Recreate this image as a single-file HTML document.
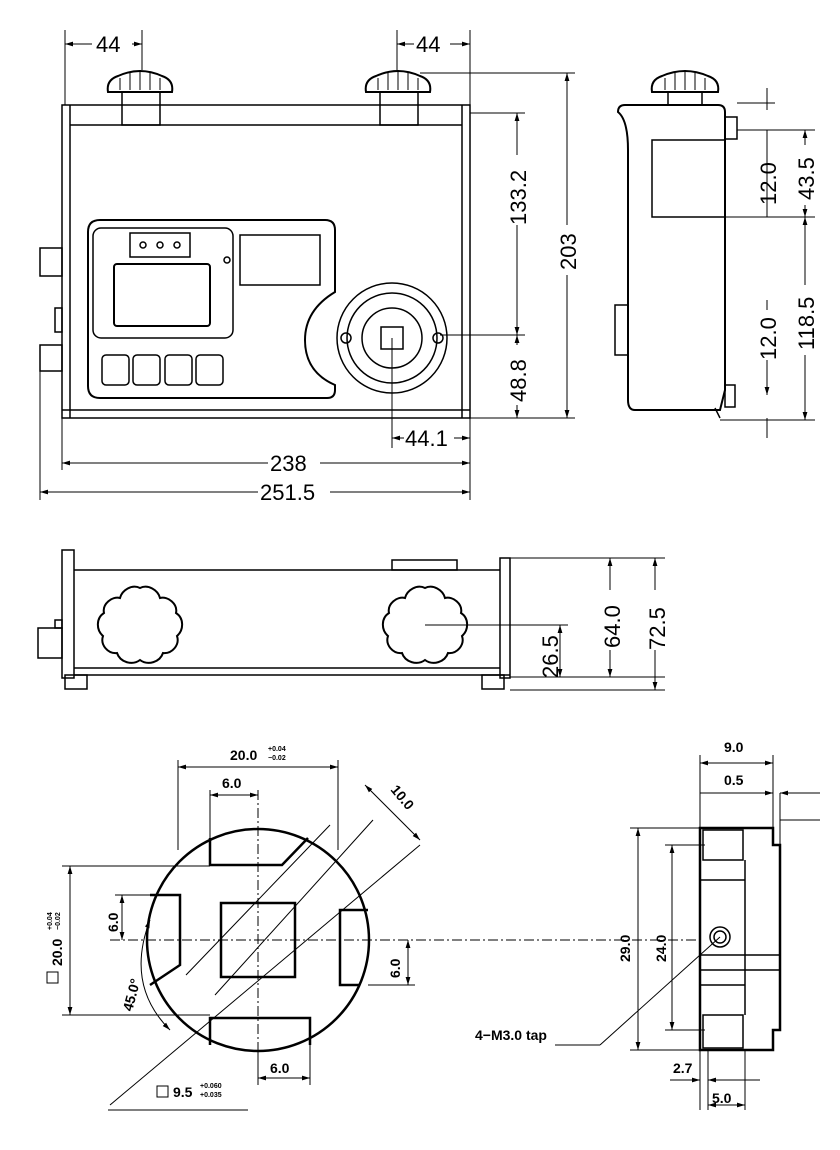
<!DOCTYPE html>
<html><head><meta charset="utf-8"><style>
html,body{margin:0;padding:0;background:#fff}
svg{display:block}
text{font-family:"Liberation Sans",sans-serif;fill:#000}
</style></head><body>
<svg width="840" height="1150" viewBox="0 0 840 1150" xmlns="http://www.w3.org/2000/svg">
<defs>
<marker id="a" viewBox="0 0 10 10" refX="10" refY="5" markerWidth="8" markerHeight="8" orient="auto-start-reverse"><path d="M0,2 L10,5 L0,8 z" fill="#000"/></marker>
</defs>
<g fill="none" stroke="#000" stroke-width="1.5">
<rect x="62" y="105" width="408" height="313"/>
<line x1="70" y1="105" x2="70" y2="418"/>
<line x1="462" y1="105" x2="462" y2="418"/>
<line x1="70" y1="125" x2="462" y2="125"/>
<line x1="62" y1="410" x2="470" y2="410"/>
<path d="M108,92 Q106,80 118,76 Q140,66 162,76 Q174,80 172,92 Z" stroke-width="2"/>
<path d="M120,78 V90 M130,73 V90 M140,71 V90 M150,73 V90 M160,78 V90" stroke-width="1"/>
<rect x="122" y="92" width="38" height="33"/>
<path d="M366,92 Q364,80 376,76 Q398,66 420,76 Q432,80 430,92 Z" stroke-width="2"/>
<path d="M378,78 V90 M388,73 V90 M398,71 V90 M408,73 V90 M418,78 V90" stroke-width="1"/>
<rect x="380" y="92" width="38" height="33"/>
<rect x="40" y="248" width="22" height="28"/>
<rect x="55" y="308" width="7" height="24"/>
<rect x="40" y="345" width="22" height="26"/>
<path d="M100,220 H325 Q335,220 335,230 V292 Q305,310 305,340 Q305,372 335,385 V390 Q335,398 327,398 H100 Q88,398 88,386 V232 Q88,220 100,220 Z" stroke-width="2"/>
<rect x="93" y="228" width="140" height="110" rx="8"/>
<rect x="130" y="233" width="60" height="24"/>
<circle cx="143" cy="245" r="3"/><circle cx="160" cy="245" r="3"/><circle cx="177" cy="245" r="3"/>
<rect x="114" y="264" width="96" height="62" rx="3" stroke-width="2"/>
<rect x="240" y="235" width="80" height="50"/>
<circle cx="227" cy="260" r="3"/>
<rect x="102" y="355" width="27" height="30" rx="4"/>
<rect x="133" y="355" width="27" height="30" rx="4"/>
<rect x="165" y="355" width="27" height="30" rx="4"/>
<rect x="196" y="355" width="27" height="30" rx="4"/>
<circle cx="392" cy="338" r="55"/>
<circle cx="392" cy="338" r="45"/>
<circle cx="392" cy="338" r="30"/>
<rect x="381" y="327" width="22" height="22"/>
<circle cx="346" cy="338" r="5"/><circle cx="438" cy="338" r="5"/>
<line x1="65" y1="30" x2="65" y2="105" stroke-width="1"/>
<line x1="142" y1="30" x2="142" y2="70" stroke-width="1"/>
<line x1="65" y1="44" x2="142" y2="44" stroke-width="1" marker-start="url(#a)" marker-end="url(#a)"/>
<line x1="397" y1="30" x2="397" y2="70" stroke-width="1"/>
<line x1="470" y1="30" x2="470" y2="105" stroke-width="1"/>
<line x1="397" y1="44" x2="470" y2="44" stroke-width="1" marker-start="url(#a)" marker-end="url(#a)"/>
<line x1="420" y1="73" x2="575" y2="73" stroke-width="1"/>
<line x1="470" y1="113" x2="525" y2="113" stroke-width="1"/>
<line x1="440" y1="335" x2="525" y2="335" stroke-width="1"/>
<line x1="470" y1="418" x2="575" y2="418" stroke-width="1"/>
<line x1="517" y1="113" x2="517" y2="335" stroke-width="1" marker-start="url(#a)" marker-end="url(#a)"/>
<line x1="517" y1="335" x2="517" y2="418" stroke-width="1" marker-start="url(#a)" marker-end="url(#a)"/>
<line x1="567" y1="73" x2="567" y2="418" stroke-width="1" marker-start="url(#a)" marker-end="url(#a)"/>
<line x1="392" y1="338" x2="392" y2="448" stroke-width="1"/>
<line x1="392" y1="438" x2="470" y2="438" stroke-width="1" marker-start="url(#a)" marker-end="url(#a)"/>
<line x1="470" y1="418" x2="470" y2="500" stroke-width="1"/>
<line x1="62" y1="418" x2="62" y2="470" stroke-width="1"/>
<line x1="40" y1="371" x2="40" y2="500" stroke-width="1"/>
<line x1="62" y1="463" x2="470" y2="463" stroke-width="1" marker-start="url(#a)" marker-end="url(#a)"/>
<line x1="40" y1="492" x2="470" y2="492" stroke-width="1" marker-start="url(#a)" marker-end="url(#a)"/>
<path d="M625,105 H718 Q725,105 725,112 V390 L720,410 H635 Q628,410 628,400 V150 Q628,120 618,112 Q618,105 625,105 Z" stroke-width="2"/>
<path d="M652,92 Q650,80 662,76 Q685,66 708,76 Q720,80 718,92 Z" stroke-width="2"/>
<path d="M665,78 V90 M675,73 V90 M685,71 V90 M695,73 V90 M705,78 V90" stroke-width="1"/>
<rect x="668" y="92" width="34" height="13"/>
<rect x="652" y="140" width="73" height="77"/>
<rect x="725" y="117" width="12" height="22"/>
<rect x="615" y="305" width="13" height="50"/>
<rect x="725" y="385" width="10" height="22"/>
<line x1="715" y1="408" x2="720" y2="418"/>
<line x1="737" y1="103" x2="775" y2="103" stroke-width="1"/>
<line x1="767" y1="88" x2="767" y2="110" stroke-width="1"/>
<line x1="737" y1="130" x2="815" y2="130" stroke-width="1"/>
<line x1="725" y1="217" x2="815" y2="217" stroke-width="1"/>
<line x1="720" y1="420" x2="815" y2="420" stroke-width="1"/>
<line x1="767" y1="130" x2="767" y2="217" stroke-width="1"/>
<line x1="805" y1="130" x2="805" y2="217" stroke-width="1" marker-start="url(#a)" marker-end="url(#a)"/>
<line x1="805" y1="217" x2="805" y2="420" stroke-width="1" marker-start="url(#a)" marker-end="url(#a)"/>
<line x1="767" y1="300" x2="767" y2="395" stroke-width="1" marker-end="url(#a)"/>
<line x1="767" y1="418" x2="767" y2="438" stroke-width="1"/>
<rect x="62" y="550" width="12" height="128"/>
<line x1="74" y1="570" x2="500" y2="570"/>
<line x1="74" y1="668" x2="500" y2="668"/>
<line x1="74" y1="675" x2="510" y2="675"/>
<rect x="500" y="558" width="10" height="120"/>
<rect x="392" y="560" width="65" height="10"/>
<rect x="38" y="628" width="24" height="30"/>
<rect x="55" y="620" width="7" height="8"/>
<rect x="65" y="675" width="22" height="14"/>
<rect x="482" y="675" width="22" height="14"/>
<path d="M140,588 C148,584 158,590 160,598 C168,596 178,604 176,613 C184,618 184,630 177,636 C180,645 172,654 163,653 C160,662 148,666 140,660 C132,666 120,662 117,653 C108,654 100,645 103,636 C96,630 96,618 104,613 C102,604 112,596 120,598 C122,590 132,584 140,588 Z" stroke-width="2"/>
<path d="M425,588 C433,584 443,590 445,598 C453,596 463,604 461,613 C469,618 469,630 462,636 C465,645 457,654 448,653 C445,662 433,666 425,660 C417,666 405,662 402,653 C393,654 385,645 388,636 C381,630 381,618 389,613 C387,604 397,596 405,598 C407,590 417,584 425,588 Z" stroke-width="2"/>
<line x1="425" y1="625" x2="568" y2="625" stroke-width="1"/>
<line x1="510" y1="558" x2="665" y2="558" stroke-width="1"/>
<line x1="510" y1="677" x2="665" y2="677" stroke-width="1"/>
<line x1="510" y1="690" x2="665" y2="690" stroke-width="1"/>
<line x1="560" y1="625" x2="560" y2="677" stroke-width="1" marker-start="url(#a)" marker-end="url(#a)"/>
<line x1="610" y1="558" x2="610" y2="677" stroke-width="1" marker-start="url(#a)" marker-end="url(#a)"/>
<line x1="655" y1="558" x2="655" y2="690" stroke-width="1" marker-start="url(#a)" marker-end="url(#a)"/>
<circle cx="258" cy="940" r="111" stroke-width="2.5"/>
<path d="M210,838 V865 H282 L308,838" stroke-width="2.5"/>
<path d="M210,1045 V1018 H310 V1045" stroke-width="2.5"/>
<path d="M150,895 H180 V965 L150,985" stroke-width="2.5"/>
<path d="M368,910 L340,910 V985 H360" stroke-width="2.5"/>
<rect x="221" y="903" width="74" height="74" stroke-width="2.5"/>
<line x1="186" y1="975" x2="330" y2="825" stroke-width="1"/>
<line x1="215" y1="995" x2="373" y2="820" stroke-width="1"/>
<line x1="110" y1="1105" x2="420" y2="845" stroke-width="1"/>
<line x1="108" y1="1110" x2="248" y2="1110" stroke-width="1"/>
<line x1="258" y1="790" x2="258" y2="1070" stroke-width="1" stroke-dasharray="10,3,2,3"/>
<line x1="110" y1="940" x2="700" y2="940" stroke-width="1" stroke-dasharray="10,3,2,3"/>
<line x1="178" y1="760" x2="178" y2="850" stroke-width="1"/>
<line x1="338" y1="760" x2="338" y2="850" stroke-width="1"/>
<line x1="178" y1="767" x2="338" y2="767" stroke-width="1" marker-start="url(#a)" marker-end="url(#a)"/>
<line x1="210" y1="790" x2="210" y2="838" stroke-width="1"/>
<line x1="210" y1="795" x2="258" y2="795" stroke-width="1" marker-start="url(#a)" marker-end="url(#a)"/>
<line x1="365" y1="785" x2="420" y2="840" stroke-width="1" marker-start="url(#a)" marker-end="url(#a)"/>
<line x1="62" y1="866" x2="210" y2="866" stroke-width="1"/>
<line x1="62" y1="1015" x2="210" y2="1015" stroke-width="1"/>
<line x1="70" y1="866" x2="70" y2="1015" stroke-width="1" marker-start="url(#a)" marker-end="url(#a)"/>
<line x1="115" y1="895" x2="150" y2="895" stroke-width="1"/>
<line x1="122" y1="895" x2="122" y2="940" stroke-width="1" marker-start="url(#a)" marker-end="url(#a)"/>
<line x1="368" y1="985" x2="415" y2="985" stroke-width="1"/>
<line x1="408" y1="940" x2="408" y2="985" stroke-width="1" marker-start="url(#a)" marker-end="url(#a)"/>
<path d="M150,920 Q125,985 170,1030" stroke-width="1" marker-start="url(#a)" marker-end="url(#a)"/>
<line x1="258" y1="1045" x2="258" y2="1085" stroke-width="1"/>
<line x1="310" y1="1045" x2="310" y2="1085" stroke-width="1"/>
<line x1="258" y1="1078" x2="310" y2="1078" stroke-width="1" marker-start="url(#a)" marker-end="url(#a)"/>
<rect x="157" y="1086" width="11" height="11" stroke-width="1"/>
<rect x="47" y="972" width="11" height="11" stroke-width="1"/>
<path d="M700,828 H773 V845 H780 V1030 H773 V1050 H700 Z" stroke-width="2.5"/>
<rect x="703" y="830" width="40" height="30"/>
<rect x="703" y="1015" width="40" height="33"/>
<line x1="700" y1="880" x2="745" y2="880"/>
<line x1="745" y1="860" x2="745" y2="1015"/>
<line x1="700" y1="985" x2="745" y2="985"/>
<line x1="700" y1="955" x2="780" y2="955"/>
<line x1="700" y1="970" x2="780" y2="970"/>
<circle cx="720" cy="937" r="10"/><circle cx="720" cy="937" r="6"/>
<line x1="600" y1="1045" x2="720" y2="937" stroke-width="1"/>
<line x1="555" y1="1045" x2="600" y2="1045" stroke-width="1"/>
<line x1="630" y1="828" x2="700" y2="828" stroke-width="1"/>
<line x1="630" y1="1050" x2="700" y2="1050" stroke-width="1"/>
<line x1="638" y1="828" x2="638" y2="1050" stroke-width="1" marker-start="url(#a)" marker-end="url(#a)"/>
<line x1="665" y1="845" x2="705" y2="845" stroke-width="1"/>
<line x1="665" y1="1030" x2="705" y2="1030" stroke-width="1"/>
<line x1="672" y1="845" x2="672" y2="1030" stroke-width="1" marker-start="url(#a)" marker-end="url(#a)"/>
<line x1="700" y1="755" x2="700" y2="828" stroke-width="1"/>
<line x1="773" y1="755" x2="773" y2="828" stroke-width="1"/>
<line x1="700" y1="763" x2="773" y2="763" stroke-width="1" marker-start="url(#a)" marker-end="url(#a)"/>
<line x1="700" y1="793" x2="773" y2="793" stroke-width="1" marker-end="url(#a)"/>
<line x1="780" y1="793" x2="820" y2="793" stroke-width="1" marker-start="url(#a)"/>
<line x1="780" y1="793" x2="780" y2="845" stroke-width="1"/>
<line x1="780" y1="820" x2="820" y2="820" stroke-width="1"/>
<line x1="700" y1="1050" x2="700" y2="1110" stroke-width="1"/>
<line x1="708" y1="1050" x2="708" y2="1110" stroke-width="1"/>
<line x1="745" y1="1050" x2="745" y2="1110" stroke-width="1"/>
<line x1="670" y1="1080" x2="700" y2="1080" stroke-width="1" marker-end="url(#a)"/>
<line x1="708" y1="1080" x2="760" y2="1080" stroke-width="1" marker-start="url(#a)"/>
<line x1="708" y1="1105" x2="745" y2="1105" stroke-width="1" marker-start="url(#a)" marker-end="url(#a)"/>
</g>
<g font-size="22">
<rect x="92" y="32" width="40" height="24" fill="#fff"/>
<text x="96" y="52">44</text>
<rect x="414" y="32" width="36" height="24" fill="#fff"/>
<text x="416" y="52">44</text>
<rect x="404" y="428" width="50" height="22" fill="#fff"/>
<text x="405" y="446">44.1</text>
<rect x="268" y="452" width="52" height="22" fill="#fff"/>
<text x="270" y="471">238</text>
<rect x="258" y="481" width="72" height="22" fill="#fff"/>
<text x="260" y="500">251.5</text>
<rect x="505" y="155" width="24" height="70" fill="#fff"/>
<text transform="translate(526,225) rotate(-90)">133.2</text>
<rect x="505" y="345" width="24" height="60" fill="#fff"/>
<text transform="translate(526,402) rotate(-90)">48.8</text>
<rect x="555" y="225" width="24" height="50" fill="#fff"/>
<text transform="translate(576,270) rotate(-90)">203</text>
<text transform="translate(776,205) rotate(-90)">12.0</text>
<rect x="793" y="145" width="24" height="60" fill="#fff"/>
<text transform="translate(814,200) rotate(-90)">43.5</text>
<rect x="793" y="285" width="24" height="70" fill="#fff"/>
<text transform="translate(814,350) rotate(-90)">118.5</text>
<rect x="755" y="310" width="24" height="50" fill="#fff"/>
<text transform="translate(776,360) rotate(-90)">12.0</text>
<text transform="translate(558,678) rotate(-90)">26.5</text>
<rect x="598" y="590" width="24" height="60" fill="#fff"/>
<text transform="translate(620,648) rotate(-90)">64.0</text>
<rect x="643" y="590" width="24" height="60" fill="#fff"/>
<text transform="translate(665,650) rotate(-90)">72.5</text>
</g>
<g font-size="14" font-weight="bold">
<text x="230" y="760">20.0</text>
<text x="268" y="751" font-size="7">+0.04</text>
<text x="268" y="760" font-size="7">−0.02</text>
<text x="222" y="788">6.0</text>
<text transform="translate(390,790) rotate(50)">10.0</text>
<text transform="translate(118,932) rotate(-90)">6.0</text>
<text transform="translate(400,978) rotate(-90)">6.0</text>
<text transform="translate(62,966) rotate(-90)">20.0</text>
<text transform="translate(52,930) rotate(-90)" font-size="7">+0.04</text>
<text transform="translate(60,930) rotate(-90)" font-size="7">−0.02</text>
<text transform="translate(132,1012) rotate(-75)">45.0°</text>
<text x="270" y="1073">6.0</text>
<text x="173" y="1097">9.5</text>
<text x="200" y="1088" font-size="7">+0.060</text>
<text x="200" y="1097" font-size="7">+0.035</text>
<text x="724" y="752">9.0</text>
<text x="724" y="785">0.5</text>
<text transform="translate(630,962) rotate(-90)">29.0</text>
<text transform="translate(666,962) rotate(-90)">24.0</text>
<text x="475" y="1040">4−M3.0 tap</text>
<text x="673" y="1073">2.7</text>
<text x="712" y="1103">5.0</text>
</g>
</svg>
</body></html>
